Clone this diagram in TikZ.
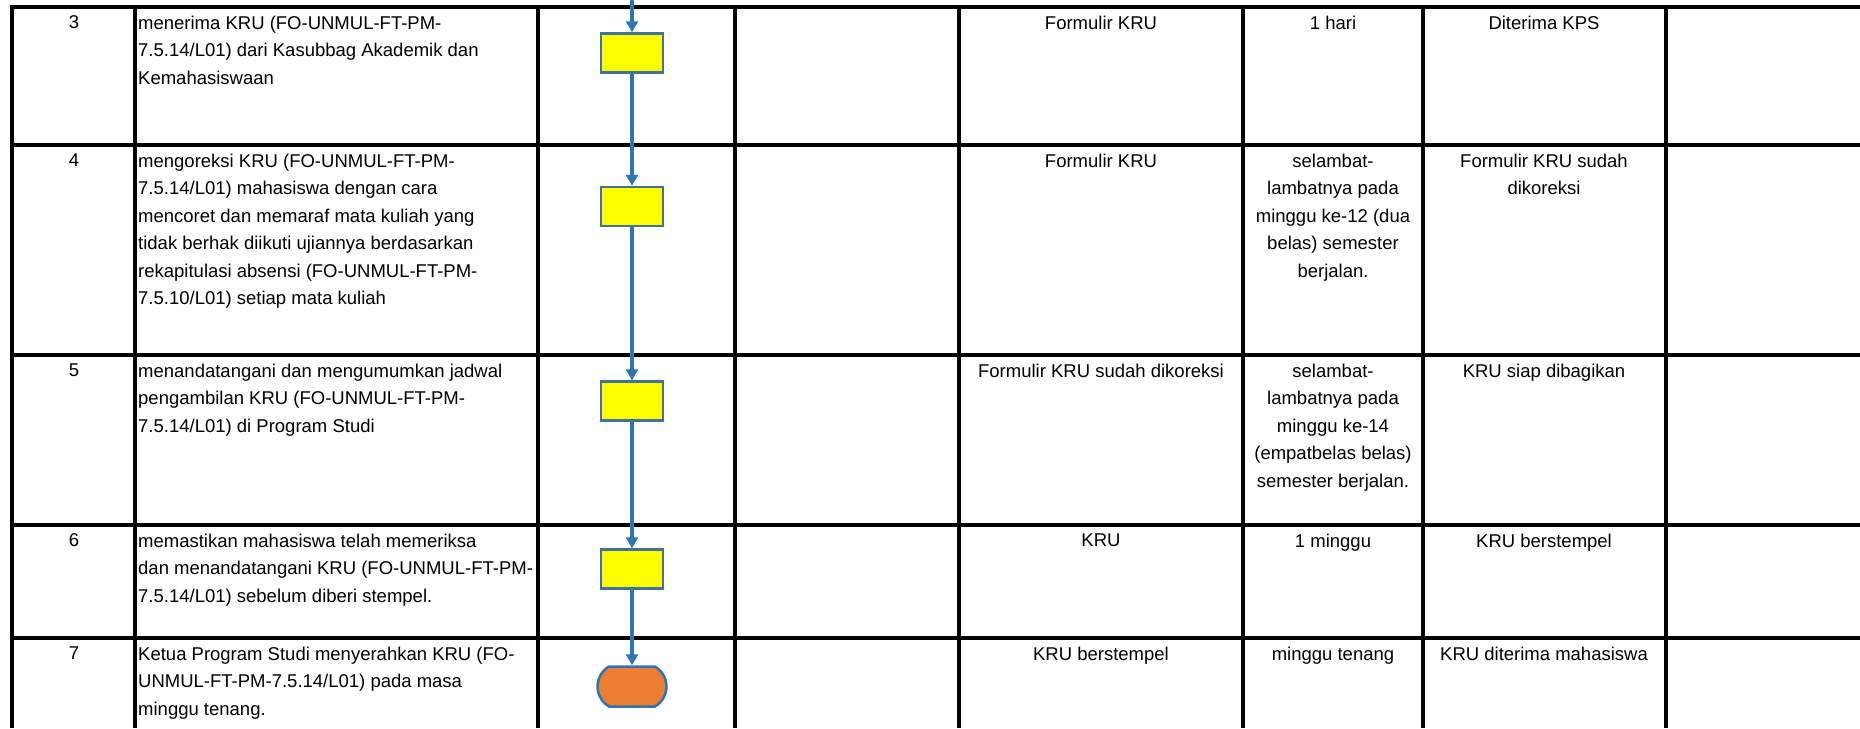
\documentclass[tikz,border=0pt]{standalone}
\usepackage{fontspec}
\setmainfont{Liberation Sans}
\usetikzlibrary{arrows.meta,shapes.misc}
\definecolor{flowblue}{RGB}{46,117,182}
\definecolor{boxedge}{RGB}{65,113,156}
\definecolor{procfill}{RGB}{255,255,0}
\definecolor{endfill}{RGB}{237,125,49}
\begin{document}
\begin{tikzpicture}[x=1pt, y=-1pt,
		grid/.style={line width=3.5pt, black},
		cell/.style={anchor=north, align=center, inner sep=0pt, font=\fontsize{18.5}{27.5}\selectfont},
		desc/.style={cell, anchor=north west, align=left},
		proc/.style={draw=boxedge, line width=2.5pt, fill=procfill, minimum width=62pt, minimum height=39pt, inner sep=0pt},
		term/.style={rounded rectangle, rounded rectangle arc length=120, draw=flowblue, line width=2.5pt, fill=endfill, minimum width=69pt, minimum height=40pt, inner sep=0pt},
		flow/.style={draw=flowblue, line width=4pt, -{Triangle[length=11pt, width=12pt]}}]
		\useasboundingbox (0,0) rectangle (1860,728);
		% table lines
		\draw[grid] (10.25,7) -- (1860,7);
		\draw[grid] (10.25,145) -- (1860,145);
		\draw[grid] (10.25,355) -- (1860,355);
		\draw[grid] (10.25,525) -- (1860,525);
		\draw[grid] (10.25,638) -- (1860,638);
		\draw[grid] (12,5.25) -- (12,728);
		\draw[grid] (135,7) -- (135,728);
		\draw[grid] (538,7) -- (538,728);
		\draw[grid] (735,7) -- (735,728);
		\draw[grid] (959,7) -- (959,728);
		\draw[grid] (1243,7) -- (1243,728);
		\draw[grid] (1423,7) -- (1423,728);
		\draw[grid] (1666,7) -- (1666,728);
		
		% step numbers
		\node[cell] (no3) at (74,15.5) {3};
		\node[cell] (no4) at (74,153.5) {4};
		\node[cell] (no5) at (74,363.5) {5};
		\node[cell] (no6) at (74,533.5) {6};
		\node[cell] (no7) at (74,646.5) {7};
		
		% activities
		\node[desc] (act3) at (138,15.5) {menerima KRU (FO-UNMUL-FT-PM-\\7.5.14/L01) dari Kasubbag Akademik dan\\Kemahasiswaan};
		\node[desc] (act4) at (138,153.5) {mengoreksi KRU (FO-UNMUL-FT-PM-\\7.5.14/L01) mahasiswa dengan cara\\mencoret dan memaraf mata kuliah yang\\tidak berhak diikuti ujiannya berdasarkan\\rekapitulasi absensi (FO-UNMUL-FT-PM-\\7.5.10/L01) setiap mata kuliah};
		\node[desc] (act5) at (138,363.5) {menandatangani dan mengumumkan jadwal\\pengambilan KRU (FO-UNMUL-FT-PM-\\7.5.14/L01) di Program Studi};
		\node[desc] (act6) at (138,533.5) {memastikan mahasiswa telah memeriksa\\dan menandatangani KRU (FO-UNMUL-FT-PM-\\7.5.14/L01) sebelum diberi stempel.};
		\node[desc] (act7) at (138,646.5) {Ketua Program Studi menyerahkan KRU (FO-\\UNMUL-FT-PM-7.5.14/L01) pada masa\\minggu tenang.};
		
		% flow
		\coordinate (start) at (632,0);
		\node[proc] (box3) at (632,53) {};
		\node[proc] (box4) at (632,206.5) {};
		\node[proc] (box5) at (632,401) {};
		\node[proc] (box6) at (632,569) {};
		\node[term] (done) at (632,686.5) {};
		\draw[flow] (start) -- (box3);
		\draw[flow] (box3) -- (box4);
		\draw[flow] (box4) -- (box5);
		\draw[flow] (box5) -- (box6);
		\draw[flow] (box6) -- (done);
		
		% documents
		\node[cell] (in3) at (1101,15.5) {Formulir KRU};
		\node[cell] (in4) at (1101,153.5) {Formulir KRU};
		\node[cell] (in5) at (1101,363.5) {Formulir KRU sudah dikoreksi};
		\node[cell] (in6) at (1101,533.5) {KRU};
		\node[cell] (in7) at (1101,646.5) {KRU berstempel};
		
		% time
		\node[cell] (time3) at (1333,15.5) {1 hari};
		\node[cell] (time4) at (1333,153.5) {selambat-\\lambatnya pada\\minggu ke-12 (dua\\belas) semester\\berjalan.};
		\node[cell] (time5) at (1333,363.5) {selambat-\\lambatnya pada\\minggu ke-14\\(empatbelas belas)\\semester berjalan.};
		\node[cell] (time6) at (1333,533.5) {1 minggu};
		\node[cell] (time7) at (1333,646.5) {minggu tenang};
		
		% output
		\node[cell] (out3) at (1544,15.5) {Diterima KPS};
		\node[cell] (out4) at (1544,153.5) {Formulir KRU sudah\\dikoreksi};
		\node[cell] (out5) at (1544,363.5) {KRU siap dibagikan};
		\node[cell] (out6) at (1544,533.5) {KRU berstempel};
		\node[cell] (out7) at (1544,646.5) {KRU diterima mahasiswa};
	\end{tikzpicture}
\end{document}
